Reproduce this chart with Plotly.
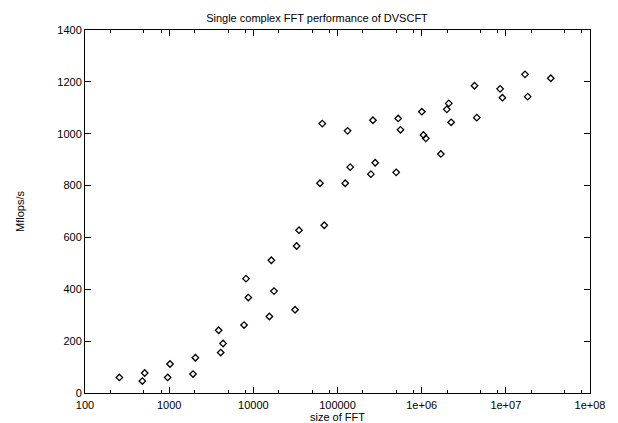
import plotly.graph_objects as go

fft_size = [
    256, 480, 512, 960, 1024, 1920, 2048, 3870, 4096, 4370,
    7760, 8190, 8720, 15500, 16380, 17600, 31300, 32700, 34900, 61900,
    65900, 69600, 123600, 131600, 141600, 249500, 263600, 280500, 498000, 526000,
    560000, 1005000, 1050000, 1122000, 1690000, 1990000, 2100000, 2240000, 4240000, 4520000,
    8550000, 9100000, 16900000, 18200000, 34200000,
]
mflops = [
    60, 46, 77, 60, 112, 73, 136, 242, 156, 191,
    262, 441, 368, 295, 512, 393, 321, 567, 628, 809,
    1039, 647, 809, 1011, 871, 844, 1052, 888, 851, 1059,
    1015, 1085, 995, 982, 922, 1094, 1117, 1044, 1185, 1062,
    1173, 1139, 1229, 1143, 1214,
]

x_tick_vals = [1e2, 1e3, 1e4, 1e5, 1e6, 1e7, 1e8]
x_tick_text = ["100", "1000", "10000", "100000", "1e+06", "1e+07", "1e+08"]
x_minor_vals = [m * 10 ** e for e in range(2, 8) for m in (2, 5, 8)]
y_tick_vals = [0, 200, 400, 600, 800, 1000, 1200, 1400]

FONT = "Liberation Sans, Arial, Helvetica, sans-serif"

fig = go.Figure()
fig.add_trace(go.Scatter(
    x=fft_size, y=mflops, mode="markers",
    marker=dict(symbol="diamond-open", size=5, color="#000000",
                line=dict(width=1.3, color="#000000")),
    showlegend=False,
))

fig.update_layout(
    width=618, height=423,
    margin=dict(l=76, r=36, t=22, b=31, pad=0),
    paper_bgcolor="white", plot_bgcolor="white",
    font=dict(family=FONT, size=11, color="#000000"),
    title=dict(text="Single complex FFT performance of DVSCFT",
               x=0.5, xanchor="center", y=1 - 10 / 423, yanchor="middle",
               font=dict(family=FONT, size=11, color="#000000")),
    xaxis=dict(
        type="log", range=[2, 8],
        tickmode="array", tickvals=x_tick_vals, ticktext=x_tick_text,
        ticks="inside", ticklen=6, tickwidth=1, tickcolor="#000000",
        ticklabelstandoff=2,
        showline=True, linecolor="#000000", linewidth=1, mirror="ticks",
        showgrid=False, zeroline=False,
        minor=dict(tickmode="array", tickvals=x_minor_vals, ticks="inside",
                   ticklen=3, tickwidth=1, tickcolor="#000000", showgrid=False),
        title=dict(text="size of FFT", standoff=0,
                   font=dict(family=FONT, size=11)),
        tickfont=dict(family=FONT, size=11),
    ),
    yaxis=dict(
        range=[0, 1400],
        tickmode="array", tickvals=y_tick_vals,
        ticks="inside", ticklen=6, tickwidth=1, tickcolor="#000000",
        showline=True, linecolor="#000000", linewidth=1, mirror="ticks",
        showgrid=False, zeroline=False,
        title=dict(text="Mflops/s", standoff=30,
                   font=dict(family=FONT, size=11)),
        tickfont=dict(family=FONT, size=11),
    ),
)

fig.write_html("out.html")
